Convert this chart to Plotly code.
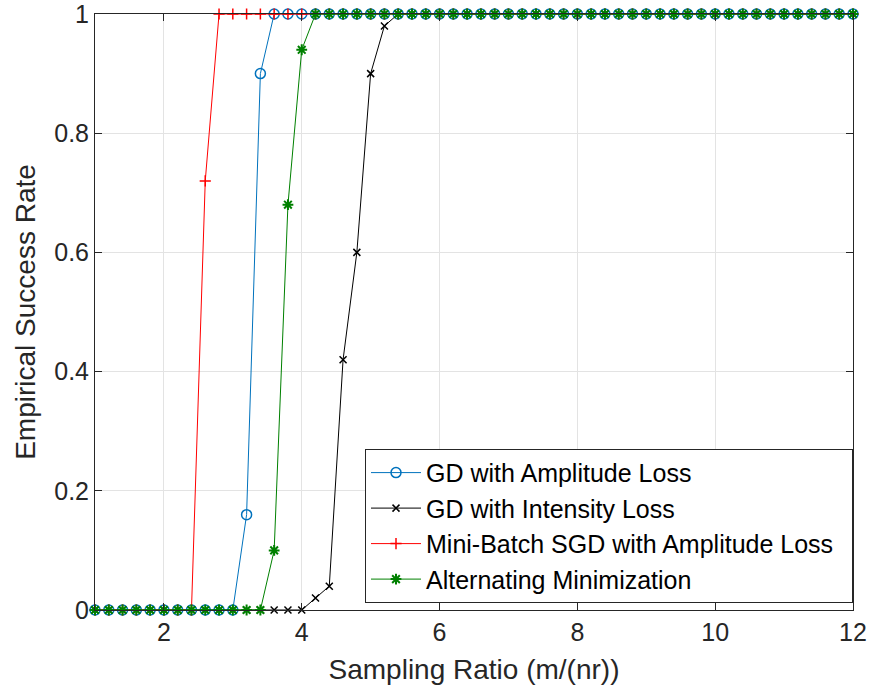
import plotly.graph_objects as go

x = [round(1 + 0.2 * i, 1) for i in range(56)]

# Empirical success rate for each method
gd_amp = [0.0] * 11 + [0.16, 0.90] + [1.0] * 43          # x = 1.0 .. 12.0
gd_int = [0.0] * 16 + [0.02, 0.04, 0.42, 0.60, 0.90, 0.98] + [1.0] * 34
sgd_amp = [0.0] * 8 + [0.72] + [1.0] * 47
altmin = [0.0] * 13 + [0.10, 0.68, 0.94] + [1.0] * 40

names = ["GD with Amplitude Loss", "GD with Intensity Loss",
         "Mini-Batch SGD with Amplitude Loss\u00a0\u00a0", "Alternating Minimization"]

FONT = "Liberation Sans, Arial"

fig = go.Figure()
fig.add_trace(go.Scatter(x=x, y=gd_amp, name=names[0], mode="lines+markers", cliponaxis=False,
                         line=dict(color="#0072BD", width=1),
                         marker=dict(symbol="circle-open", size=10, color="#0072BD", line=dict(width=1.5))))
fig.add_trace(go.Scatter(x=x, y=gd_int, name=names[1], mode="lines+markers", cliponaxis=False,
                         line=dict(color="#000000", width=1),
                         marker=dict(symbol="x-thin-open", size=7, color="#000000", line=dict(width=1.5))))
fig.add_trace(go.Scatter(x=x, y=sgd_amp, name=names[2], mode="lines+markers", cliponaxis=False,
                         line=dict(color="#FF0000", width=1),
                         marker=dict(symbol="cross-thin-open", size=8, color="#FF0000", line=dict(width=1.5))))
fig.add_trace(go.Scatter(x=x, y=altmin, name=names[3], mode="lines+markers", cliponaxis=False,
                         line=dict(color="#008000", width=1),
                         marker=dict(symbol="asterisk-open", size=9, color="#008000", line=dict(width=2))))

axis_common = dict(showline=True, linecolor="#262626", linewidth=1, mirror="ticks",
                   ticks="inside", ticklen=7, tickcolor="#262626",
                   showgrid=True, gridcolor="#e3e3e3", gridwidth=1, zeroline=False,
                   ticklabeloverflow="allow", automargin=False,
                   tickfont=dict(family=FONT, size=25, color="#262626"))

fig.update_xaxes(range=[1, 12], tickvals=[2, 4, 6, 8, 10, 12],
                 title=dict(text="Sampling Ratio (m/(nr))", font=dict(family=FONT, size=28, color="#262626"), standoff=14),
                 **axis_common)
fig.update_yaxes(range=[0, 1], tickvals=[0, 0.2, 0.4, 0.6, 0.8, 1], ticktext=["0", "0.2", "0.4", "0.6", "0.8", "1"],
                 title=dict(text="Empirical Success Rate", font=dict(family=FONT, size=28, color="#262626"), standoff=10),
                 **axis_common)

fig.update_layout(
    width=873, height=695,
    margin=dict(l=95, r=20, t=14, b=85),
    plot_bgcolor="white", paper_bgcolor="white",
    legend=dict(x=1.0, xanchor="right", y=0.012, yanchor="bottom",
                bgcolor="white", bordercolor="#262626", borderwidth=1,
                itemwidth=50,
                font=dict(family=FONT, size=25, color="#000000"),
                tracegroupgap=0),
    showlegend=True,
)

fig.write_html("out.html")
